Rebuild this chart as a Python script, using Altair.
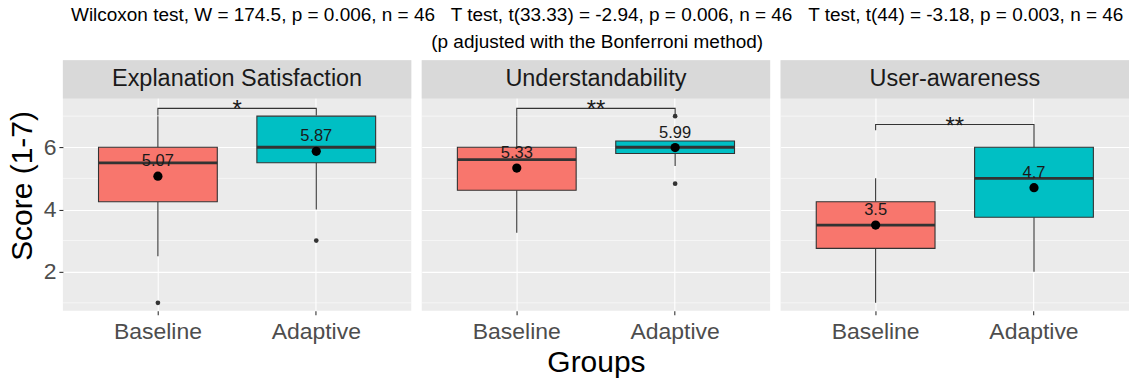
import altair as alt
import pandas as pd

# ---------------- data ----------------
panels = ["Explanation Satisfaction", "Understandability", "User-awareness"]
groups = ["Baseline", "Adaptive"]
colors = ["#F8766D", "#00BFC4"]

lower = [[2.5, 4.0], [3.25, 5.4], [1.0, 2.0]]
q1 = [[4.25, 5.5], [4.62, 5.8], [2.75, 3.75]]
median = [[5.5, 6.0], [5.6, 6.0], [3.5, 5.0]]
q3 = [[6.0, 7.0], [6.0, 6.2], [4.25, 6.0]]
upper = [[7.0, 7.0], [7.0, 6.2], [5.0, 6.0]]
means = [[5.07, 5.87], [5.33, 5.99], [3.5, 4.7]]
outliers = [[[1.0], [3.0]], [[], [7.0, 4.83]], [[], []]]

bracket_y = [7.25, 7.25, 6.73]
tip_left = [7.02, 7.0, 6.55]
tip_right = [7.02, 7.0, 6.0]
stars = ["*", "**", "**"]

title_line1 = ("Wilcoxon test, W = 174.5, p = 0.006, n = 46 \u00a0\u00a0T test, t(33.33) = -2.94, "
               "p = 0.006, n = 46 \u00a0\u00a0T test, t(44) = -3.18, p = 0.003, n = 46")
title_line2 = "(p adjusted with the Bonferroni method)"
y_title = "Score (1-7)"
x_title = "Groups"
y_ticks = [2, 4, 6]
y_minor = [1, 3, 5, 7]

# ---------------- layout ----------------
FONT = "Liberation Sans"
PW, PH = 349, 251
Y_DOMAIN = [0.744, 8.797]
STRIP_BOTTOM = 7.57

yscale = alt.Scale(domain=Y_DOMAIN, nice=False, zero=False)
xscale = alt.Scale(domain=groups, paddingInner=0.25, paddingOuter=0.225)
cscale = alt.Scale(domain=groups, range=colors)


def panel(i):
    name = panels[i]
    box = pd.DataFrame({
        "group": groups,
        "lower": lower[i], "q1": q1[i], "median": median[i],
        "q3": q3[i], "upper": upper[i], "mean": means[i],
        "label": [f"{m:g}" for m in means[i]],
    })
    out = pd.DataFrame([{"group": g, "v": v} for g, vs in zip(groups, outliers[i]) for v in vs])
    if out.empty:
        out = pd.DataFrame({"group": pd.Series([], dtype=str), "v": pd.Series([], dtype=float)})
    br = pd.DataFrame({
        "group": [groups[0], groups[0], groups[1], groups[1]],
        "y": [tip_left[i], bracket_y[i], bracket_y[i], tip_right[i]],
        "o": [0, 1, 2, 3],
    })
    star = pd.DataFrame({"y": [bracket_y[i]], "s": [stars[i]]})
    strip = pd.DataFrame({"y": [STRIP_BOTTOM], "y2": [Y_DOMAIN[1]], "t": [name]})
    minor = pd.DataFrame({"y": y_minor})

    if i == 0:
        yaxis = alt.Axis(values=y_ticks, title=y_title, titleFontSize=30, titleFontWeight="normal",
                         titleColor="black", titleFont=FONT, labelFont=FONT,
                         labelFontSize=23, labelColor="#4D4D4D", tickColor="#333333",
                         tickSize=4, tickWidth=1.1, domain=False, grid=True, gridColor="white",
                         gridWidth=1.1, labelPadding=3, titlePadding=6)
    else:
        yaxis = alt.Axis(values=y_ticks, title=None, labels=False, ticks=False, domain=False,
                         grid=True, gridColor="white", gridWidth=1.1)
    xaxis = alt.Axis(title=(x_title if i == 1 else None), labelFontSize=23, labelColor="#4D4D4D",
                     labelFont=FONT, labelAngle=0, tickColor="#333333", tickSize=4, tickWidth=1.1,
                     domain=False, grid=True, gridColor="white", gridWidth=1.1, bandPosition=0.5,
                     labelPadding=6, titleFontSize=30, titleFontWeight="normal", titleColor="black",
                     titleFont=FONT, titlePadding=4)

    X = alt.X("group:N", scale=xscale, axis=xaxis, sort=groups)

    def Y(f):
        return alt.Y(f, type="quantitative", scale=yscale, axis=yaxis)

    base_box = alt.Chart(box)

    minor_l = alt.Chart(minor).mark_rule(color="white", strokeWidth=0.55).encode(
        y=Y("y"), x=alt.value(0), x2=alt.value(PW))
    whisk_lo = base_box.mark_rule(color="#333333", strokeWidth=1.1).encode(
        x=X, y=Y("lower"), y2="q1")
    whisk_hi = base_box.mark_rule(color="#333333", strokeWidth=1.1).encode(
        x=X, y=Y("q3"), y2="upper")
    boxes = base_box.mark_bar(stroke="#333333", strokeWidth=1.1).encode(
        x=X, y=Y("q1"), y2="q3",
        fill=alt.Fill("group:N", scale=cscale, legend=None))
    med = base_box.mark_bar(stroke="#333333", strokeWidth=2.8, fill="#333333").encode(
        x=X, y=Y("median"), y2="median")
    outs = alt.Chart(out).mark_circle(color="#333333", opacity=1, size=22).encode(
        x=X, y=Y("v"))
    mean_pt = base_box.mark_circle(color="black", opacity=1, size=85).encode(
        x=X, y=Y("mean"))
    mean_lab = base_box.mark_text(font=FONT, fontSize=16.5, color="#1A1A1A", dy=-15,
                                  baseline="middle").encode(x=X, y=Y("mean"), text="label")
    bracket = alt.Chart(br).mark_line(color="#333333", strokeWidth=1.1).encode(
        x=X, y=Y("y"), order="o")
    star_t = alt.Chart(star).mark_text(font=FONT, fontSize=24, color="#1A1A1A", dy=9,
                                       baseline="alphabetic").encode(
        y=Y("y"), x=alt.value(PW / 2), text="s")
    strip_r = alt.Chart(strip).mark_rect(fill="#D9D9D9").encode(
        y=Y("y"), y2="y2", x=alt.value(0), x2=alt.value(PW))
    strip_t = alt.Chart(strip).transform_calculate(ym="(datum.y + datum.y2) / 2").mark_text(
        font=FONT, fontSize=23.5, color="#1A1A1A", baseline="middle").encode(
        y=Y("ym:Q"), x=alt.value(PW / 2), text="t")

    return alt.layer(minor_l, strip_r, strip_t, whisk_lo, whisk_hi, boxes, med, outs,
                     mean_pt, mean_lab, bracket, star_t).properties(width=PW, height=PH)


chart = alt.hconcat(panel(0), panel(1), panel(2), spacing=8.5).properties(
    title=alt.Title(text=title_line1, subtitle=title_line2, font=FONT, subtitleFont=FONT,
                    fontSize=19, subtitleFontSize=19, fontWeight="normal", color="black",
                    subtitleColor="black", anchor="middle", offset=8, subtitlePadding=8, dx=29),
    padding={"left": 7, "top": 6, "right": 1, "bottom": 1},
).configure(font=FONT, background="white").configure_view(fill="#EBEBEB", stroke=None)

chart.save("out.html", embed_options={"renderer": "svg", "actions": False})
